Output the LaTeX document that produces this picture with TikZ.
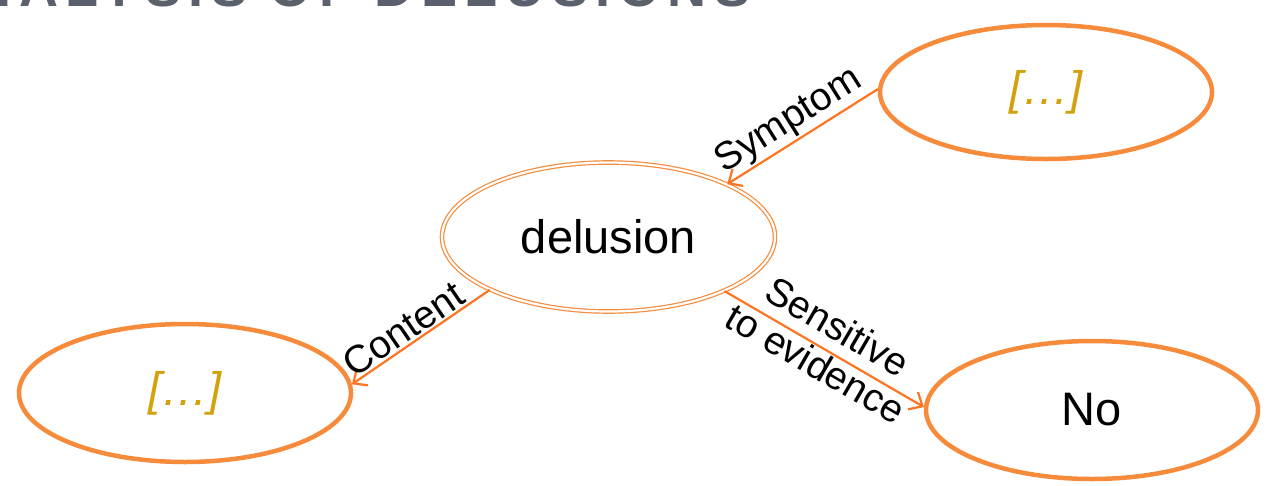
\documentclass[tikz,border=0pt]{standalone}
\usepackage{fontspec}
\setmainfont{Liberation Sans}
\usetikzlibrary{shapes.geometric,arrows.meta}
\definecolor{ellorange}{HTML}{F68B3C}
\definecolor{lineorange}{HTML}{FF7420}
\definecolor{phgold}{HTML}{D1A20C}
\definecolor{titlegray}{HTML}{5A606C}
\newcommand{\bigfnt}{\fontsize{47}{52}\selectfont}
\newcommand{\labfnt}{\fontsize{39}{40}\selectfont}
\newcommand{\titlefnt}{\fontsize{54}{60}\selectfont\bfseries\addfontfeatures{LetterSpace=14}}
\begin{document}
\begin{tikzpicture}[x=1pt,y=-1pt,
  concept/.style={ellipse, draw=ellorange, line width=4.5pt, minimum width=332pt,
    minimum height=134pt, inner sep=0pt, font=\bigfnt},
  mainconcept/.style={ellipse, draw=ellorange, line width=1.2pt, double=white,
    double distance=2.2pt, minimum width=333pt, minimum height=149pt,
    inner sep=0pt, font=\bigfnt},
  placeholder/.style={text=phgold, font=\bigfnt\itshape},
  rel/.style={draw=lineorange, line width=2.2pt,
    -{Straight Barb[length=11pt,width=20pt,line width=2.2pt]}},
  lab/.style={font=\labfnt, text=black, sloped, inner sep=1.5pt}
]
\useasboundingbox (0,0) rectangle (1266,485);
\node[anchor=base west, text=titlegray, font=\titlefnt, inner sep=0pt] (title) at (-74,6) {ANALYSIS OF DELUSIONS};

\node[mainconcept] (del) at (608.5,237) {delusion};
\node[concept, placeholder, minimum height=134pt] (tr) at (1046,92) {[…]};
\node[concept, placeholder, minimum height=138pt] (lf) at (185,393) {[…]};
\node[concept, minimum height=138pt] (no) at (1092,410) {No};

\draw[rel] (tr.179) -- node[lab, above, pos=0.52] (lsym) {Symptom} (del.24.7);
\draw[rel] (del.204.5) -- node[lab, above, pos=0.56] (lcon) {Content} (lf.3);
\draw[rel] (del.335.5) -- node[lab, pos=0.5, align=center, yshift=5pt] (lsen) {Sensitive\\[3pt]to evidence} (no.179);
\end{tikzpicture}
\end{document}
